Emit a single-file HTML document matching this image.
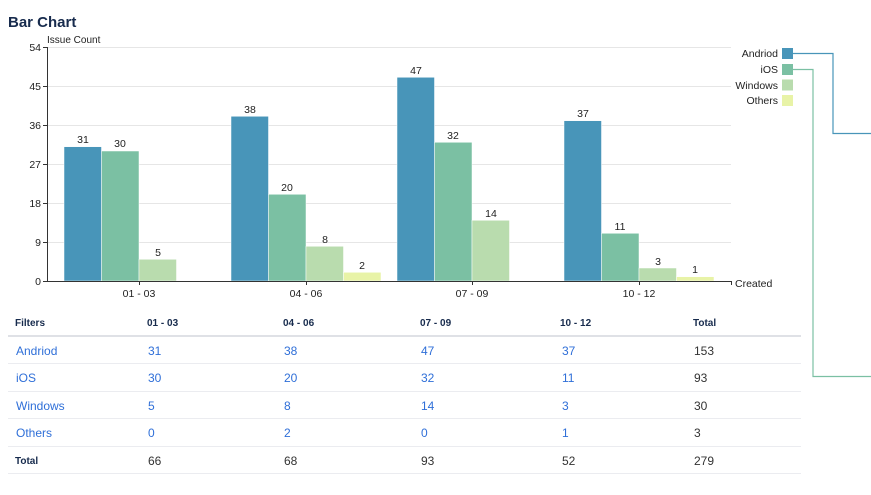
<!DOCTYPE html>
<html><head><meta charset="utf-8"><style>
html,body{margin:0;padding:0;background:#fff;width:871px;height:495px;overflow:hidden}
svg{display:block;font-family:"Liberation Sans",Arial,sans-serif}
</style></head><body>
<svg width="871" height="495" viewBox="0 0 871 495">
<text x="8" y="27" font-size="15" font-weight="bold" fill="#172b4d">Bar Chart</text>
<text x="47" y="43" font-size="10" fill="#222">Issue Count</text>
<g stroke="#e6e6e6" stroke-width="1">
<line x1="47" y1="47.5" x2="731" y2="47.5"/><line x1="47" y1="86.5" x2="731" y2="86.5"/>
<line x1="47" y1="125.5" x2="731" y2="125.5"/><line x1="47" y1="164.5" x2="731" y2="164.5"/>
<line x1="47" y1="203.5" x2="731" y2="203.5"/><line x1="47" y1="242.5" x2="731" y2="242.5"/>
</g>
<g font-size="10.5" fill="#222" text-anchor="end">
<text x="41" y="51">54</text><text x="41" y="90">45</text><text x="41" y="129">36</text>
<text x="41" y="168">27</text><text x="41" y="207">18</text><text x="41" y="246">9</text><text x="41" y="285">0</text>
</g>
<g stroke="#333" stroke-width="1">
<line x1="47.5" y1="47" x2="47.5" y2="282"/>
<line x1="43" y1="47.5" x2="47" y2="47.5"/><line x1="43" y1="86.5" x2="47" y2="86.5"/><line x1="43" y1="125.5" x2="47" y2="125.5"/><line x1="43" y1="164.5" x2="47" y2="164.5"/><line x1="43" y1="203.5" x2="47" y2="203.5"/><line x1="43" y1="242.5" x2="47" y2="242.5"/><line x1="43" y1="281.5" x2="47" y2="281.5"/>
</g>
<!-- bars: scale 4.333/unit, base 281 -->
<g stroke="#fff" stroke-width="0.5">
<rect x="64" y="146.7" width="37.5" height="134.3" fill="#4895b9"/>
<rect x="101.5" y="151" width="37.5" height="130" fill="#7bc0a3"/>
<rect x="139" y="259.3" width="37.5" height="21.7" fill="#b9dcae"/>

<rect x="231" y="116.3" width="37.5" height="164.7" fill="#4895b9"/>
<rect x="268.5" y="194.3" width="37.5" height="86.7" fill="#7bc0a3"/>
<rect x="306" y="246.3" width="37.5" height="34.7" fill="#b9dcae"/>
<rect x="343.5" y="272.3" width="37.5" height="8.7" fill="#e8f3a7"/>

<rect x="397" y="77.3" width="37.5" height="203.7" fill="#4895b9"/>
<rect x="434.5" y="142.3" width="37.5" height="138.7" fill="#7bc0a3"/>
<rect x="472" y="220.3" width="37.5" height="60.7" fill="#b9dcae"/>

<rect x="564" y="120.7" width="37.5" height="160.3" fill="#4895b9"/>
<rect x="601.5" y="233.3" width="37.5" height="47.7" fill="#7bc0a3"/>
<rect x="639" y="268" width="37.5" height="13" fill="#b9dcae"/>
<rect x="676.5" y="276.7" width="37.5" height="4.3" fill="#e8f3a7"/>
</g>
<g font-size="10.5" fill="#222" text-anchor="middle">
<text x="83" y="143">31</text><text x="120" y="147">30</text><text x="158" y="256">5</text>
<text x="250" y="113">38</text><text x="287" y="191">20</text><text x="325" y="243">8</text><text x="362" y="269">2</text>
<text x="416" y="74">47</text><text x="453" y="139">32</text><text x="491" y="217">14</text>
<text x="583" y="117">37</text><text x="620" y="230">11</text><text x="658" y="265">3</text><text x="695" y="273">1</text>
</g>
<g stroke="#333" stroke-width="1">
<line x1="47" y1="281.5" x2="731" y2="281.5"/><line x1="731.5" y1="281" x2="731.5" y2="285"/>
<line x1="139.5" y1="281" x2="139.5" y2="285"/><line x1="306.5" y1="281" x2="306.5" y2="285"/>
<line x1="472.5" y1="281" x2="472.5" y2="285"/><line x1="639.5" y1="281" x2="639.5" y2="285"/>
</g>
<g font-size="10.5" fill="#222" text-anchor="middle">
<text x="139" y="297">01 - 03</text><text x="306" y="297">04 - 06</text><text x="472" y="297">07 - 09</text><text x="639" y="297">10 - 12</text>
</g>
<text x="735" y="287" font-size="10.5" fill="#222">Created</text>
<!-- legend -->
<g font-size="10.5" fill="#222" text-anchor="end">
<text x="778" y="57">Andriod</text><text x="778" y="73">iOS</text><text x="778" y="89">Windows</text><text x="778" y="104">Others</text>
</g>
<rect x="782" y="48" width="11" height="11" fill="#4895b9"/>
<rect x="782" y="64" width="11" height="11" fill="#7bc0a3"/>
<rect x="782" y="79.5" width="11" height="11" fill="#b9dcae"/>
<rect x="782" y="95" width="11" height="11" fill="#e8f3a7"/>
<polyline points="793,53.5 833,53.5 833,133.5 871,133.5" fill="none" stroke="#4895b9" stroke-width="1.2"/>
<polyline points="793,69.5 813,69.5 813,376.5 871,376.5" fill="none" stroke="#7bc0a3" stroke-width="1.2"/>
<!-- table -->
<g font-size="10" font-weight="bold" fill="#172b4d">
<text x="15" y="326">Filters</text><text x="147" y="326">01 - 03</text><text x="283" y="326">04 - 06</text><text x="420" y="326">07 - 09</text><text x="560" y="326">10 - 12</text><text x="693" y="326">Total</text>
</g>
<line x1="8" y1="336" x2="801" y2="336" stroke="#dfe1e6" stroke-width="2"/>
<g stroke="#ebecf0" stroke-width="1">
<line x1="8" y1="363.5" x2="801" y2="363.5"/><line x1="8" y1="391.5" x2="801" y2="391.5"/>
<line x1="8" y1="418.5" x2="801" y2="418.5"/><line x1="8" y1="446.5" x2="801" y2="446.5"/><line x1="8" y1="473.5" x2="801" y2="473.5"/>
</g>
<g font-size="12" fill="#2f6fd8">
<text x="16" y="355">Andriod</text><text x="148" y="355">31</text><text x="284" y="355">38</text><text x="421" y="355">47</text><text x="562" y="355">37</text>
<text x="16" y="382">iOS</text><text x="148" y="382">30</text><text x="284" y="382">20</text><text x="421" y="382">32</text><text x="562" y="382">11</text>
<text x="16" y="410">Windows</text><text x="148" y="410">5</text><text x="284" y="410">8</text><text x="421" y="410">14</text><text x="562" y="410">3</text>
<text x="16" y="437">Others</text><text x="148" y="437">0</text><text x="284" y="437">2</text><text x="421" y="437">0</text><text x="562" y="437">1</text>
</g>
<g font-size="12" fill="#333">
<text x="694" y="355">153</text><text x="694" y="382">93</text><text x="694" y="410">30</text><text x="694" y="437">3</text>
<text x="148" y="465">66</text><text x="284" y="465">68</text><text x="421" y="465">93</text><text x="562" y="465">52</text><text x="694" y="465">279</text>
</g>
<text x="15" y="464" font-size="10" font-weight="bold" fill="#172b4d">Total</text>
</svg>
</body></html>
